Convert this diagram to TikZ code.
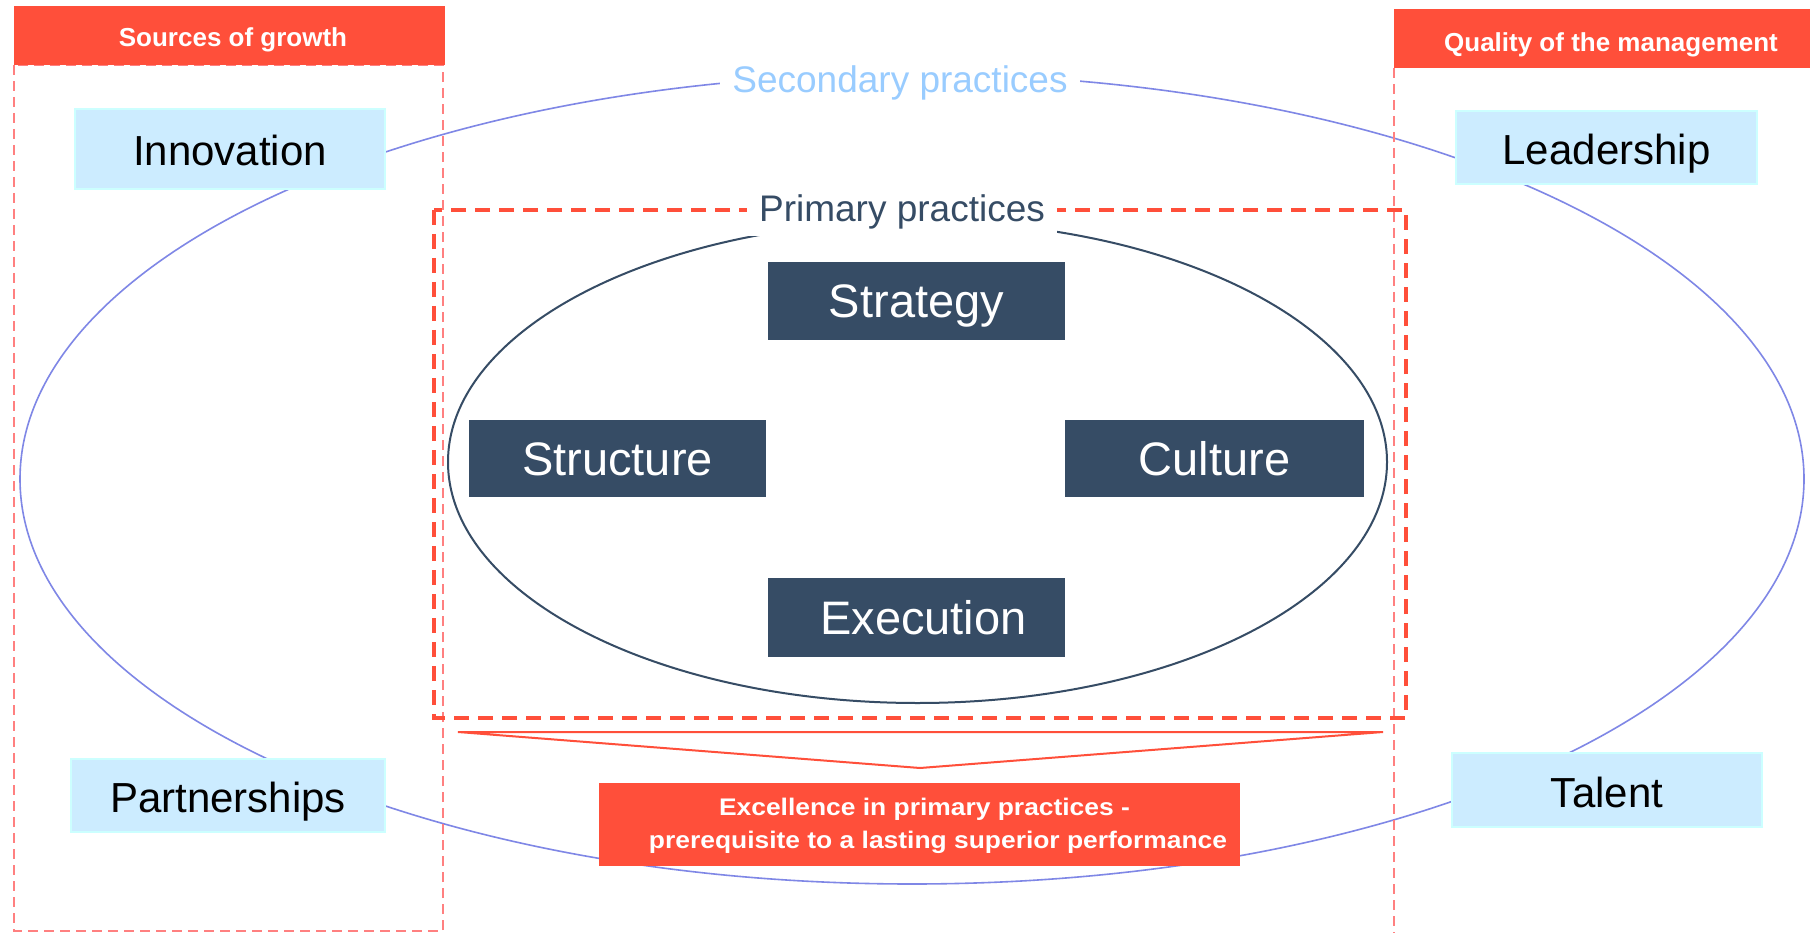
\documentclass[tikz,border=0pt]{standalone}
\usepackage{fontspec}
\setmainfont{Liberation Sans}
\newfontfamily\widesans[FakeStretch=1.1]{Liberation Sans}
\definecolor{redc}{HTML}{FF4F3A}
\definecolor{lred}{HTML}{FF8080}
\definecolor{navy}{HTML}{364C65}
\definecolor{lblue}{HTML}{CCECFF}
\definecolor{lbord}{HTML}{CCFFFF}
\definecolor{peri}{HTML}{7F87E6}
\definecolor{seclab}{HTML}{99CCFF}
\begin{document}
\begin{tikzpicture}[x=1pt,y=-1pt,
 lbox/.style={fill=lblue,draw=lbord,line width=1.5pt,inner sep=0pt,font=\fontsize{42}{50}\selectfont,text height=34pt,text depth=0pt},
 dbox/.style={fill=navy,text=white,inner sep=0pt,font=\fontsize{47}{56}\selectfont,text height=33.6pt,text depth=0pt},
 hdr/.style={fill=redc,inner sep=0pt},
 hdrtxt/.style={text=white,font=\bfseries\fontsize{26}{31}\selectfont,inner sep=0pt,anchor=base},
 lblwhite/.style={fill=white,inner xsep=12pt,inner ysep=6pt,anchor=base},
]
\useasboundingbox (0,0) rectangle (1810,933);
\fill[white] (0,0) rectangle (1810,933);

% secondary ellipse
\draw[peri,line width=1.6pt] (912,479) ellipse [x radius=892, y radius=405];

% side frames
\draw[lred,line width=1.8pt,dash pattern=on 10pt off 6pt] (14,65) rectangle (443,931);
\coordinate (rtop) at (1394,68);
\coordinate (rbot) at (1394,933);
\draw[lred,line width=1.8pt,dash pattern=on 10pt off 6pt] (rtop) -- (rbot);

% light blue boxes
\node[lbox,minimum width=310pt,minimum height=80pt] (inno) at (230,149) {Innovation};
\node[lbox,minimum width=301pt,minimum height=73pt] (lead) at (1606.5,147.5) {Leadership};
\node[lbox,minimum width=314pt,minimum height=73pt] (part) at (228,795.5) {Partnerships};
\node[lbox,minimum width=310pt,minimum height=74pt] (tal) at (1607,790) {Talent};

% headers
\node[hdr,minimum width=431pt,minimum height=59pt] (hl) at (229.5,35.5) {};
\node[hdrtxt] (hlt) at (233,47) {Sources of growth};
\node[hdr,minimum width=416pt,minimum height=59pt] (hr) at (1602,38.5) {};
\node[hdrtxt] (hrt) at (1611,52) {Quality of the management};

% secondary label
\node[lblwhite,text=seclab,font=\fontsize{37}{44}\selectfont] (sec) at (900,93) {Secondary practices};

% primary dashed box and ellipse
\draw[redc,line width=3.5pt,dash pattern=on 15pt off 9pt] (434,210) rectangle (1406,718);
\draw[navy,line width=2pt] (917.5,462) ellipse [x radius=469.5, y radius=241];
\node[lblwhite,text=navy,font=\fontsize{37}{44}\selectfont] (prim) at (902,222) {Primary practices};

% dark boxes
\node[dbox,minimum width=297pt,minimum height=78pt] (strat) at (916.5,301) {Strategy};
\node[dbox,minimum width=297pt,minimum height=77pt] (struc) at (617.5,458.5) {Structure};
\node[dbox,minimum width=299pt,minimum height=77pt] (cult) at (1214.5,458.5) {Culture};
\node[dbox,minimum width=297pt,minimum height=79pt] (exec) at (916.5,617.5) {\hspace*{14pt}Execution};

% funnel triangle
\coordinate (tl) at (458,732);
\coordinate (tr) at (1383,732);
\coordinate (ta) at (920,768);
\draw[redc,line width=2pt] (tl) -- (tr) -- (ta) -- cycle;

% bottom box
\node[fill=redc,minimum width=641pt,minimum height=83pt,inner sep=0pt] (exc) at (919.5,824) {};
\node[text=white,font=\widesans\bfseries\fontsize{24}{33}\selectfont,align=center,inner sep=0pt] (exct) at (938,826) {Excellence in primary practices -\kern27pt\\prerequisite to a lasting superior performance};
\end{tikzpicture}
\end{document}
